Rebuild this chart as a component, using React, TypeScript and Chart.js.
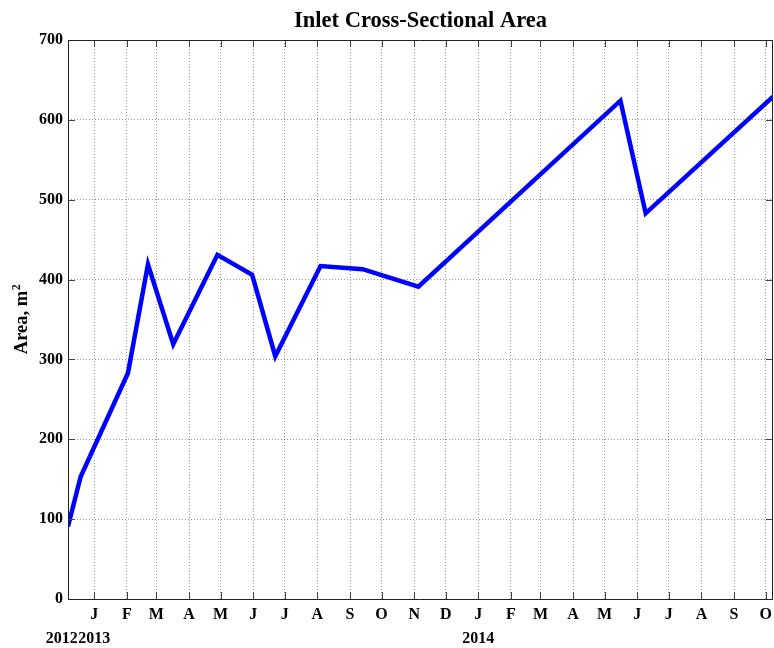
import { useEffect, useRef } from "react";
import { Chart, registerables } from "chart.js";

Chart.register(...registerables);

// ---- data ----
const sampleDates = [
  "2012-12-07",
  "2012-12-19",
  "2013-02-02",
  "2013-02-21",
  "2013-03-17",
  "2013-04-28",
  "2013-05-31",
  "2013-06-22",
  "2013-08-04",
  "2013-09-13",
  "2013-11-05",
  "2014-05-16",
  "2014-06-09",
  "2014-10-08",
];
const areaValues = [91, 153, 283, 419, 319, 431, 406, 304, 417, 413, 391, 624, 483, 629];
const monthLetters = ["J", "F", "M", "A", "M", "J", "J", "A", "S", "O", "N", "D"];
const yearLabels = ["2012", "2013", "2014"];
const yearLabelDates = ["2012-12-01", "2013-01-01", "2014-01-01"];
const yMin = 0;
const yMax = 700;
const yStep = 100;
const titleText = "Inlet Cross-Sectional Area";
const yAxisLabel = "Area, m";
const yAxisSup = "2";

const EPOCH = Date.UTC(2013, 0, 1);
const toDay = (s: string) => {
  const [y, m, d] = s.split("-").map(Number);
  return (Date.UTC(y, m - 1, d) - EPOCH) / 86400000;
};

const FONT = "'Liberation Serif', 'Times New Roman', serif";

export default function App() {
  const ref = useRef<HTMLCanvasElement | null>(null);

  useEffect(() => {
    const canvas = ref.current;
    if (!canvas) return;

    const xs = sampleDates.map(toDay);
    const xMinV = xs[0];
    const xMaxV = xs[xs.length - 1];

    // month ticks within range
    const tickVals: number[] = [];
    const tickLabels: string[] = [];
    const first = sampleDates[0].split("-").map(Number);
    let yy = first[0];
    let mm = first[1] - 1;
    for (let i = 0; i < 60; i++) {
      const v = (Date.UTC(yy, mm, 1) - EPOCH) / 86400000;
      if (v > xMaxV) break;
      if (v >= xMinV) {
        tickVals.push(v);
        tickLabels.push(monthLetters[mm]);
      }
      mm++;
      if (mm > 11) {
        mm = 0;
        yy++;
      }
    }

    const decorPlugin = {
      id: "decor",
      afterDraw(chart: any) {
        const ctx = chart.ctx as CanvasRenderingContext2D;
        const area = chart.chartArea;
        const xs2 = chart.scales.x;
        const ys2 = chart.scales.y;
        ctx.save();
        // inner tick marks
        ctx.strokeStyle = "#444";
        ctx.lineWidth = 1;
        const tl = 7;
        ctx.beginPath();
        for (const v of tickVals) {
          const px = Math.round(xs2.getPixelForValue(v)) + 0.5;
          ctx.moveTo(px, area.bottom);
          ctx.lineTo(px, area.bottom - tl);
          ctx.moveTo(px, area.top);
          ctx.lineTo(px, area.top + tl);
        }
        for (let v = yMin; v <= yMax; v += yStep) {
          const py = Math.round(ys2.getPixelForValue(v)) + 0.5;
          ctx.moveTo(area.left, py);
          ctx.lineTo(area.left + tl, py);
          ctx.moveTo(area.right, py);
          ctx.lineTo(area.right - tl, py);
        }
        ctx.stroke();
        // box
        ctx.strokeStyle = "#222";
        ctx.beginPath();
        ctx.rect(
          Math.round(area.left) + 0.5,
          Math.round(area.top) + 0.5,
          Math.round(area.right - area.left) - 1,
          Math.round(area.bottom - area.top)
        );
        ctx.stroke();

        ctx.fillStyle = "#000";
        // title
        ctx.font = `bold 22.5px ${FONT}`;
        ctx.textAlign = "center";
        ctx.textBaseline = "alphabetic";
        ctx.fillText(titleText, (area.left + area.right) / 2, 27);

        // year labels
        ctx.font = `bold 16px ${FONT}`;
        yearLabels.forEach((lab, i) => {
          const px = xs2.getPixelForValue(toDay(yearLabelDates[i]));
          ctx.fillText(lab, px, 643);
        });

        // y-axis label
        ctx.translate(27, (area.top + area.bottom) / 2);
        ctx.rotate(-Math.PI / 2);
        ctx.font = `bold 18.5px ${FONT}`;
        const w1 = ctx.measureText(yAxisLabel).width;
        ctx.font = `bold 12px ${FONT}`;
        const w2 = ctx.measureText(yAxisSup).width;
        const start = -(w1 + w2) / 2;
        ctx.textAlign = "left";
        ctx.font = `bold 18.5px ${FONT}`;
        ctx.fillText(yAxisLabel, start, 0);
        ctx.font = `bold 12px ${FONT}`;
        ctx.fillText(yAxisSup, start + w1 + 0.5, -7);
        ctx.restore();
      },
    };

    const chart = new Chart(canvas, {
      type: "line",
      data: {
        datasets: [
          {
            data: xs.map((x, i) => ({ x, y: areaValues[i] })),
            borderColor: "#0000FF",
            borderWidth: 4.5,
            pointRadius: 0,
            tension: 0,
            fill: false,
            borderJoinStyle: "miter",
          } as any,
        ],
      },
      options: {
        responsive: false,
        animation: false,
        devicePixelRatio: 1,
        layout: { padding: { top: 40, right: 1, left: 0, bottom: 0 } },
        plugins: {
          legend: { display: false },
          title: { display: false },
          tooltip: { enabled: false },
        },
        scales: {
          x: {
            type: "linear",
            min: xMinV,
            max: xMaxV,
            afterBuildTicks: (scale: any) => {
              scale.ticks = tickVals.map((v) => ({ value: v }));
            },
            afterFit: (scale: any) => {
              scale.height = 49;
              scale.paddingLeft = 0;
              scale.paddingRight = 0;
            },
            ticks: {
              autoSkip: false,
              maxRotation: 0,
              minRotation: 0,
              padding: 6,
              color: "#000",
              font: { family: FONT, size: 16, weight: "bold" },
              callback: (_v: any, i: number) => tickLabels[i],
            },
            grid: {
              drawTicks: false,
              color: "rgba(0,0,0,0.42)",
              lineWidth: 1,
            },
            border: { display: false, dash: [1, 2] },
          },
          y: {
            type: "linear",
            min: yMin,
            max: yMax,
            afterFit: (scale: any) => {
              scale.width = 68;
            },
            ticks: {
              stepSize: yStep,
              padding: 5,
              color: "#000",
              font: { family: FONT, size: 16, weight: "bold" },
            },
            grid: {
              drawTicks: false,
              color: "rgba(0,0,0,0.42)",
              lineWidth: 1,
            },
            border: { display: false, dash: [1, 2] },
          },
        },
      } as any,
      plugins: [decorPlugin],
    });

    return () => chart.destroy();
  }, []);

  return (
    <div style={{ position: "fixed", left: 0, top: 0, width: 774, height: 648, background: "#fff" }}>
      <canvas ref={ref} width={774} height={648} style={{ width: 774, height: 648 }} />
    </div>
  );
}
